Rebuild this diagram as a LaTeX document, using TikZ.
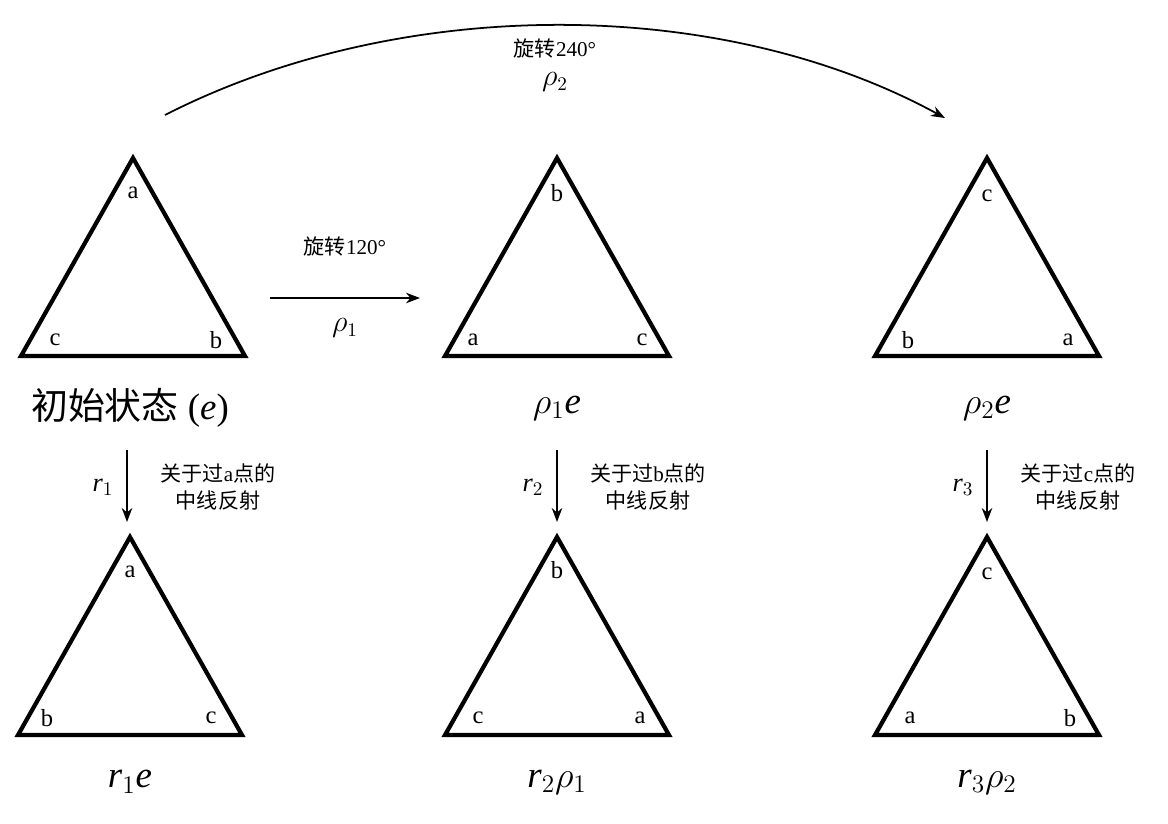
\documentclass[tikz,border=0pt]{standalone}
\usepackage{fontspec}
\setmainfont{Liberation Serif}
\newfontfamily\cjk{Noto Sans CJK SC}
\usetikzlibrary{arrows.meta}
\tikzset{
  tri/.style={line width=2.4pt, line join=miter},
  corner/.style={font=\fontsize{14}{16}\selectfont, inner sep=0pt},
  caption/.style={font=\fontsize{21}{24}\selectfont},
  move/.style={line width=1pt, -{Stealth[length=8pt,width=6pt]}},
  note/.style={font=\fontsize{12}{15}\selectfont, align=center},
}
\newcommand{\trig}[3]{% name, x, y of apex
  \coordinate (#1A) at (#2,#3);
  \coordinate (#1L) at (#2-112,#3+198);
  \coordinate (#1R) at (#2+112,#3+198);
  \draw[tri] (#1A) -- (#1L) -- (#1R) -- cycle;
}
\newcommand{\iv}[1]{\textit{#1}}
\begin{document}
\begin{tikzpicture}[x=0.02cm, y=-0.02cm]
\useasboundingbox (0,0) rectangle (1168,823);
% top row
\trig{e}{133}{158}
\trig{p}{557}{158}
\trig{q}{987}{158}
% bottom row
\trig{f}{130}{537}
\trig{g}{557}{537}
\trig{h}{987}{537}
% corner letters
\node[corner] (ea) at (133,193) {a}; \node[corner] (ec) at (55,340) {c}; \node[corner] (eb) at (216,340) {b};
\node[corner] (pb) at (557,193) {b}; \node[corner] (pa) at (473,340) {a}; \node[corner] (pc) at (642,340) {c};
\node[corner] (qc) at (987,196) {c}; \node[corner] (qb) at (908,340) {b}; \node[corner] (qa) at (1068,340) {a};
\node[corner] (fa) at (130,572) {a}; \node[corner] (fb) at (47,718) {b}; \node[corner] (fc) at (211,718) {c};
\node[corner] (gb) at (557,570) {b}; \node[corner] (gc) at (478,718) {c}; \node[corner] (ga) at (640,718) {a};
\node[corner] (hc) at (987,574) {c}; \node[corner] (ha) at (910,718) {a}; \node[corner] (hb) at (1070,718) {b};
% captions
\node[caption] (ce) at (130,408) {{\cjk 初始状态} (\iv{e})};
\node[caption] (cp) at (557,408) {$\rho_1$\iv{e}};
\node[caption] (cq) at (987,408) {$\rho_2$\iv{e}};
\node[caption] (cf) at (130,782) {\iv{r}$_1$\iv{e}};
\node[caption] (cg) at (557,782) {\iv{r}$_2\rho_1$};
\node[caption] (ch) at (987,782) {\iv{r}$_3\rho_2$};
% rotations
\coordinate (r1s) at (270,298); \coordinate (r1e) at (420,298);
\draw[move] (r1s) -- (r1e);
\node[note] (r1t) at (345,246) {{\cjk 旋转}120°};
\node[note, font=\fontsize{16}{18}\selectfont] (r1b) at (345,328) {$\rho_1$};
\coordinate (r2s) at (165,115); \coordinate (r2e) at (945,118);
\draw[move] (r2s) .. controls (400,-5) and (720,-5) .. (r2e);
\node[note] (r2t) at (555,48) {{\cjk 旋转}240°};
\node[note, font=\fontsize{16}{18}\selectfont] (r2b) at (555,82) {$\rho_2$};
% reflections
\foreach \x/\r/\v in {127/1/a, 557/2/b, 987/3/c}{
  \coordinate (d\r s) at (\x,450); \coordinate (d\r e) at (\x,522);
  \draw[move] (d\r s) -- (d\r e);
  \node[note, font=\fontsize{15}{18}\selectfont] (dl\r) at (\x-24,487) {\iv{r}$_\r$};
  \node[note] (dt\r) at (\x+91,487) {{\cjk 关于过}\v{\cjk 点的}\\{\cjk 中线反射}};
}
\end{tikzpicture}
\end{document}
